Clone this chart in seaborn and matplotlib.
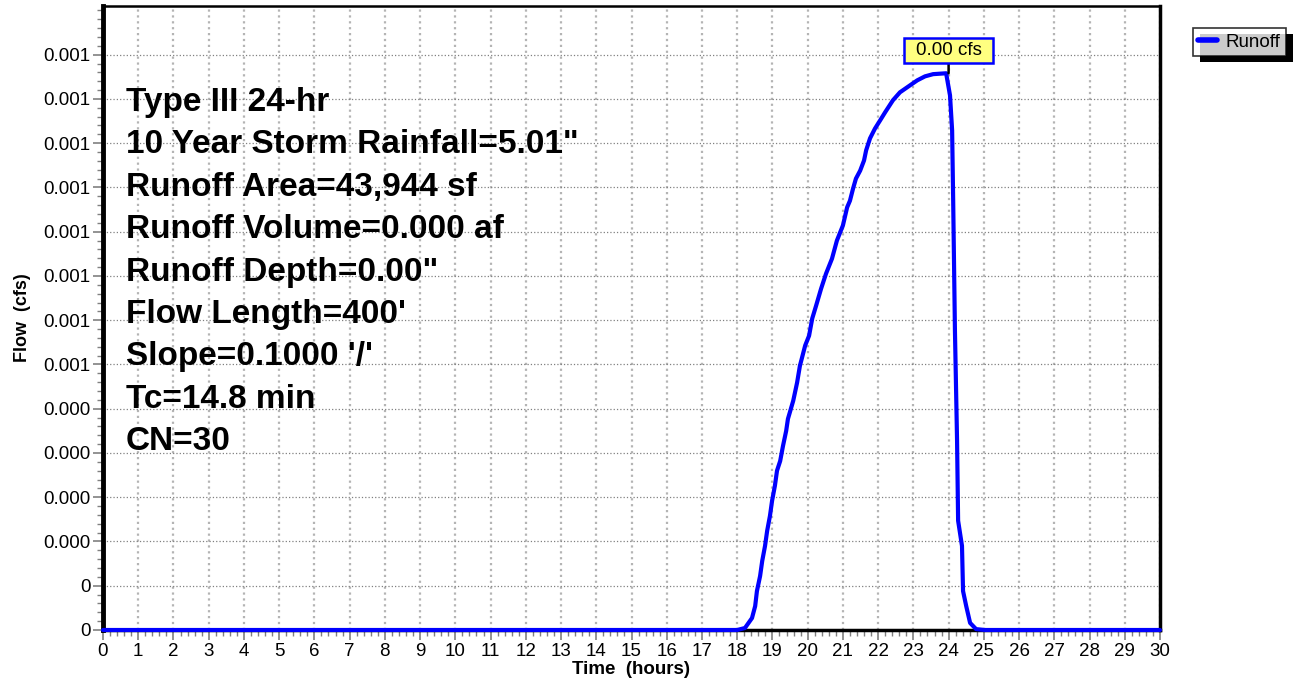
import numpy as np
import pandas as pd
import matplotlib
matplotlib.use("Agg")
import matplotlib.pyplot as plt
from matplotlib.ticker import FixedLocator, FixedFormatter, MultipleLocator
from matplotlib.lines import Line2D
from matplotlib.patches import Rectangle
from matplotlib.path import Path
import seaborn as sns

# Runoff hydrograph (hours, cfs)
hours = [0.0, 18.0, 18.22, 18.42, 18.51, 18.56, 18.65, 18.71, 18.79, 18.85, 18.93,
         18.99, 19.07, 19.13, 19.22, 19.30, 19.39, 19.44, 19.59, 19.70, 19.78,
         19.93, 20.04, 20.13, 20.24, 20.38, 20.52, 20.69, 20.83, 21.00, 21.12,
         21.20, 21.29, 21.37, 21.49, 21.60, 21.66, 21.77, 21.91, 22.06, 22.20,
         22.42, 22.62, 22.91, 23.11, 23.33, 23.56, 23.93, 24.04, 24.10, 24.13,
         24.18, 24.24, 24.27, 24.38, 24.41, 24.50, 24.61, 24.78, 25.03, 30.0]
flow = [0.0, 0.0, 0.0000045, 0.000027, 0.000054, 0.000088, 0.000122, 0.000156,
        0.000190, 0.000224, 0.000258, 0.000292, 0.000326, 0.000360, 0.000382,
        0.000416, 0.000450, 0.000477, 0.000518, 0.000559, 0.000597, 0.000643,
        0.000665, 0.000704, 0.000733, 0.000771, 0.000805, 0.000839, 0.000880,
        0.000914, 0.000955, 0.000970, 0.000998, 0.001020, 0.001038, 0.001061,
        0.001084, 0.001111, 0.001133, 0.001152, 0.001170, 0.001197, 0.001215,
        0.001231, 0.001242, 0.001251, 0.001256, 0.001258, 0.001208, 0.001129,
        0.000970, 0.000676, 0.000428, 0.000247, 0.000190, 0.000088, 0.000054,
        0.000016, 0.000002, 0.0, 0.0]

y_ticks = [i * 0.0001 for i in range(14)]
y_tick_labels = ["0", "0", "0.000", "0.000", "0.000", "0.000", "0.001",
                 "0.001", "0.001", "0.001", "0.001", "0.001", "0.001", "0.001"]
x_ticks = list(range(0, 31))

info_lines = ["Type III 24-hr", "10 Year Storm Rainfall=5.01\"",
              "Runoff Area=43,944 sf", "Runoff Volume=0.000 af",
              "Runoff Depth=0.00\"", "Flow Length=400'", "Slope=0.1000 '/'",
              "Tc=14.8 min", "CN=30"]
peak_label = "0.00 cfs"
series_name = "Runoff"

df = pd.DataFrame({"hours": hours, "flow": flow})


def wide_box(x0, y0, width, height, mutation_size):
    """Square label box, wider padding left/right than top/bottom."""
    padx = 0.62 * mutation_size
    pady = 0.2 * mutation_size
    x0, y0 = x0 - padx, y0 - pady
    x1, y1 = x0 + width + 2 * padx, y0 + height + 2 * pady
    return Path([(x0, y0), (x1, y0), (x1, y1), (x0, y1), (x0, y0)], closed=True)


sns.set_style("white")
plt.rcParams["font.family"] = ["Liberation Sans", "DejaVu Sans"]
plt.rcParams["text.color"] = "black"
plt.rcParams["axes.labelcolor"] = "black"
plt.rcParams["xtick.labelcolor"] = "black"
plt.rcParams["ytick.labelcolor"] = "black"

fig = plt.figure(figsize=(12.94, 6.83), dpi=100)
ax = fig.add_axes([103 / 1294, 53 / 683, (1160 - 103) / 1294, (677 - 53) / 683])

sns.lineplot(data=df, x="hours", y="flow", ax=ax, color="#0000ff",
             linewidth=3.0, zorder=5, clip_on=False)

ax.set_xlim(0, 30)
ax.set_ylim(0, 0.00141)
ax.xaxis.set_major_locator(FixedLocator(x_ticks))
ax.xaxis.set_minor_locator(MultipleLocator(0.2))
ax.yaxis.set_major_locator(FixedLocator(y_ticks))
ax.yaxis.set_major_formatter(FixedFormatter(y_tick_labels))
ax.yaxis.set_minor_locator(MultipleLocator(0.00002))

ax.tick_params(axis="both", which="major", labelsize=13.5, direction="out",
               length=7, width=1.2, color="#808080", pad=2,
               bottom=True, left=True)
ax.tick_params(axis="both", which="minor", direction="out", length=4,
               width=1.0, color="#808080", bottom=True, left=True)

ax.grid(False, which="minor")
ax.xaxis.grid(True, which="major", color="#b4b4b4", linestyle=":", linewidth=1.6)
ax.yaxis.grid(True, which="major", color="#808080", linestyle=":", linewidth=0.9)
ax.set_axisbelow(True)

for side, lw in [("left", 3.5), ("bottom", 2.5), ("right", 2.5), ("top", 1.8)]:
    ax.spines[side].set_visible(True)
    ax.spines[side].set_color("black")
    ax.spines[side].set_linewidth(lw)

ax.set_xlabel("Time  (hours)", fontsize=13.5, fontweight="bold", labelpad=1)
ax.set_ylabel("Flow  (cfs)", fontsize=13, fontweight="bold", labelpad=9)

# storm info block
for i, line in enumerate(info_lines):
    ax.text(0.0215, 1 - (102 - 6 + 42.4 * i) / 623, line,
            transform=ax.transAxes, fontsize=24, fontweight="bold",
            va="center", ha="left", zorder=6)

# peak annotation
ipk = int(np.argmax(flow))
ax.annotate(peak_label, xy=(24.0, flow[ipk]), xytext=(24.0, 0.00131),
            ha="center", va="center", fontsize=13.5, zorder=7,
            bbox=dict(boxstyle=wide_box, facecolor="#ffff80",
                      edgecolor="#0000ff", linewidth=1.8),
            arrowprops=dict(arrowstyle="-", color="black", linewidth=1.8,
                            shrinkA=0, shrinkB=0))

# legend with hard black shadow
handle = Line2D([0], [0], color="#0000ff", linewidth=4)
leg = fig.legend([handle], [series_name], loc="upper right",
                 bbox_to_anchor=(1286 / 1294, 1 - 28 / 683), fontsize=13.5,
                 frameon=True, fancybox=False, edgecolor="black",
                 handlelength=1.0, handletextpad=0.45, borderpad=0.3,
                 borderaxespad=0)
leg.get_frame().set_linewidth(1.2)
leg.set_zorder(10)
fig.canvas.draw()
bb = leg.get_window_extent()
shadow = Rectangle((bb.x0 + 7, bb.y0 - 6), bb.width, bb.height,
                   transform=None, facecolor="black", edgecolor="none", zorder=9)
fig.patches.append(shadow)

fig.savefig("out.png", dpi=100)
